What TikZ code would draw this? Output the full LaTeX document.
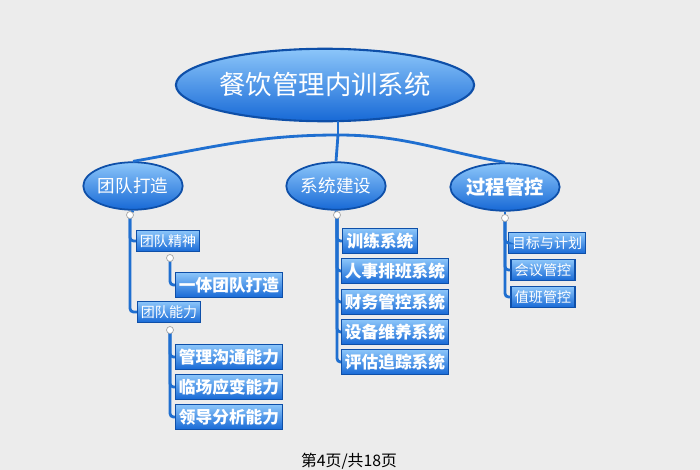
\documentclass[tikz,border=0pt]{standalone}
\usepackage{fontspec}
\setmainfont{Noto Sans CJK SC}
\usetikzlibrary{shapes.geometric, arrows}
\definecolor{bgc}{HTML}{ECECEC}
\definecolor{linec}{HTML}{1F6FD0}
\definecolor{topc}{HTML}{8CC6FA}
\definecolor{botc}{HTML}{1769D6}
\definecolor{edgec}{HTML}{0E4FA8}
\tikzstyle{rootnode} = [ellipse, draw=edgec, line width=1.2pt, top color=topc, bottom color=botc, text=white, minimum width=5.4cm, minimum height=1.45cm, inner sep=0pt, font=\fontsize{15}{15}\selectfont]
\tikzstyle{topic} = [ellipse, draw=edgec, line width=1pt, top color=topc, bottom color=botc, text=white, minimum width=1.75cm, minimum height=0.95cm, inner sep=0pt, font=\fontsize{10}{10}\selectfont]
\tikzstyle{smallbox} = [rectangle, draw=edgec, line width=0.6pt, top color=topc, bottom color=botc, text=white, minimum height=0.42cm, inner sep=2pt, font=\fontsize{8}{8}\selectfont]
\tikzstyle{bigbox} = [rectangle, draw=edgec, line width=0.6pt, top color=topc, bottom color=botc, text=white, minimum height=0.5cm, inner sep=2pt, font=\bfseries\fontsize{9.5}{9.5}\selectfont]
\tikzstyle{knob} = [circle, draw=gray!70, fill=white, inner sep=0pt, minimum size=0.14cm]
\tikzstyle{link} = [draw=linec, line width=1.6pt, rounded corners=2pt]
\begin{document}
\begin{tikzpicture}[x=0.02cm, y=-0.02cm]
    \fill[bgc] (0,0) rectangle (700,470);
    \useasboundingbox (0,0) rectangle (700,470);
    % top level
    \coordinate (fork) at (338,135);
    \node (root) [rootnode] at (325,85) {餐饮管理内训系统};
    \node (team) [topic] at (133,186) {团队打造};
    \node (sys) [topic] at (336,186) {系统建设};
    \node (proc) [topic, font=\bfseries\fontsize{11}{11}\selectfont] at (505,187) {过程管控};
    \draw [link] (root.south) ++(13,-1) -- (fork);
    \draw [link] (fork) to[out=180, in=10] (team.north);
    \draw [link] (fork) -- (sys.north);
    \draw [link] (fork) to[out=0, in=170] (proc.north);
    % left branch
    \node (spirit) [smallbox, minimum width=1.14cm] at (168,241) {团队精神};
    \node (ability) [smallbox, minimum width=1.16cm] at (169,312) {团队能力};
    \node (one) [bigbox, minimum width=2.04cm] at (229,285) {一体团队打造};
    \node (ab1) [bigbox, minimum width=2.04cm] at (229,357) {管理沟通能力};
    \node (ab2) [bigbox, minimum width=2.04cm] at (229,387) {临场应变能力};
    \node (ab3) [bigbox, minimum width=2.04cm] at (229,417) {领导分析能力};
    \coordinate (mteam) at (130,215);
    \coordinate (mspirit) at (170,258);
    \coordinate (mability) at (170,330);
    \draw [link] (team.south) -- (mteam);
    \draw [link] (mteam) |- (spirit.west);
    \draw [link] (mteam) |- (ability.west);
    \draw [link] (mspirit) |- (one.west);
    \draw [link] (mability) |- (ab1.west);
    \draw [link] (mability) |- (ab2.west);
    \draw [link] (mability) |- (ab3.west);
    % middle branch
    \node (s1) [bigbox, minimum width=1.5cm] at (380,241) {训练系统};
    \node (s2) [bigbox, minimum width=2.08cm] at (395,271) {人事排班系统};
    \node (s3) [bigbox, minimum width=2.08cm] at (395,302) {财务管控系统};
    \node (s4) [bigbox, minimum width=2.08cm] at (395,332) {设备维养系统};
    \node (s5) [bigbox, minimum width=2.08cm] at (395,362) {评估追踪系统};
    \coordinate (msys) at (337,215);
    \draw [link] (sys.south) -- (msys);
    \foreach \n in {s1,s2,s3,s4,s5}
        \draw [link] (msys) |- (\n.west);
    % right branch
    \node (p1) [smallbox, minimum width=1.42cm] at (547,243) {目标与计划};
    \node (p2) [smallbox, minimum width=1.28cm] at (543,270) {会议管控};
    \node (p3) [smallbox, minimum width=1.28cm] at (543,297) {值班管控};
    \coordinate (mproc) at (505,218);
    \draw [link] (proc.south) -- (mproc);
    \foreach \n in {p1,p2,p3}
        \draw [link] (mproc) |- (\n.west);
    % collapse knobs
    \foreach \k in {mteam,mspirit,mability,msys,mproc}
        \node [knob] at (\k) {};
    \node (page) [font=\fontsize{9}{9}\selectfont] at (349,461) {第4页/共18页};
\end{tikzpicture}
\end{document}
